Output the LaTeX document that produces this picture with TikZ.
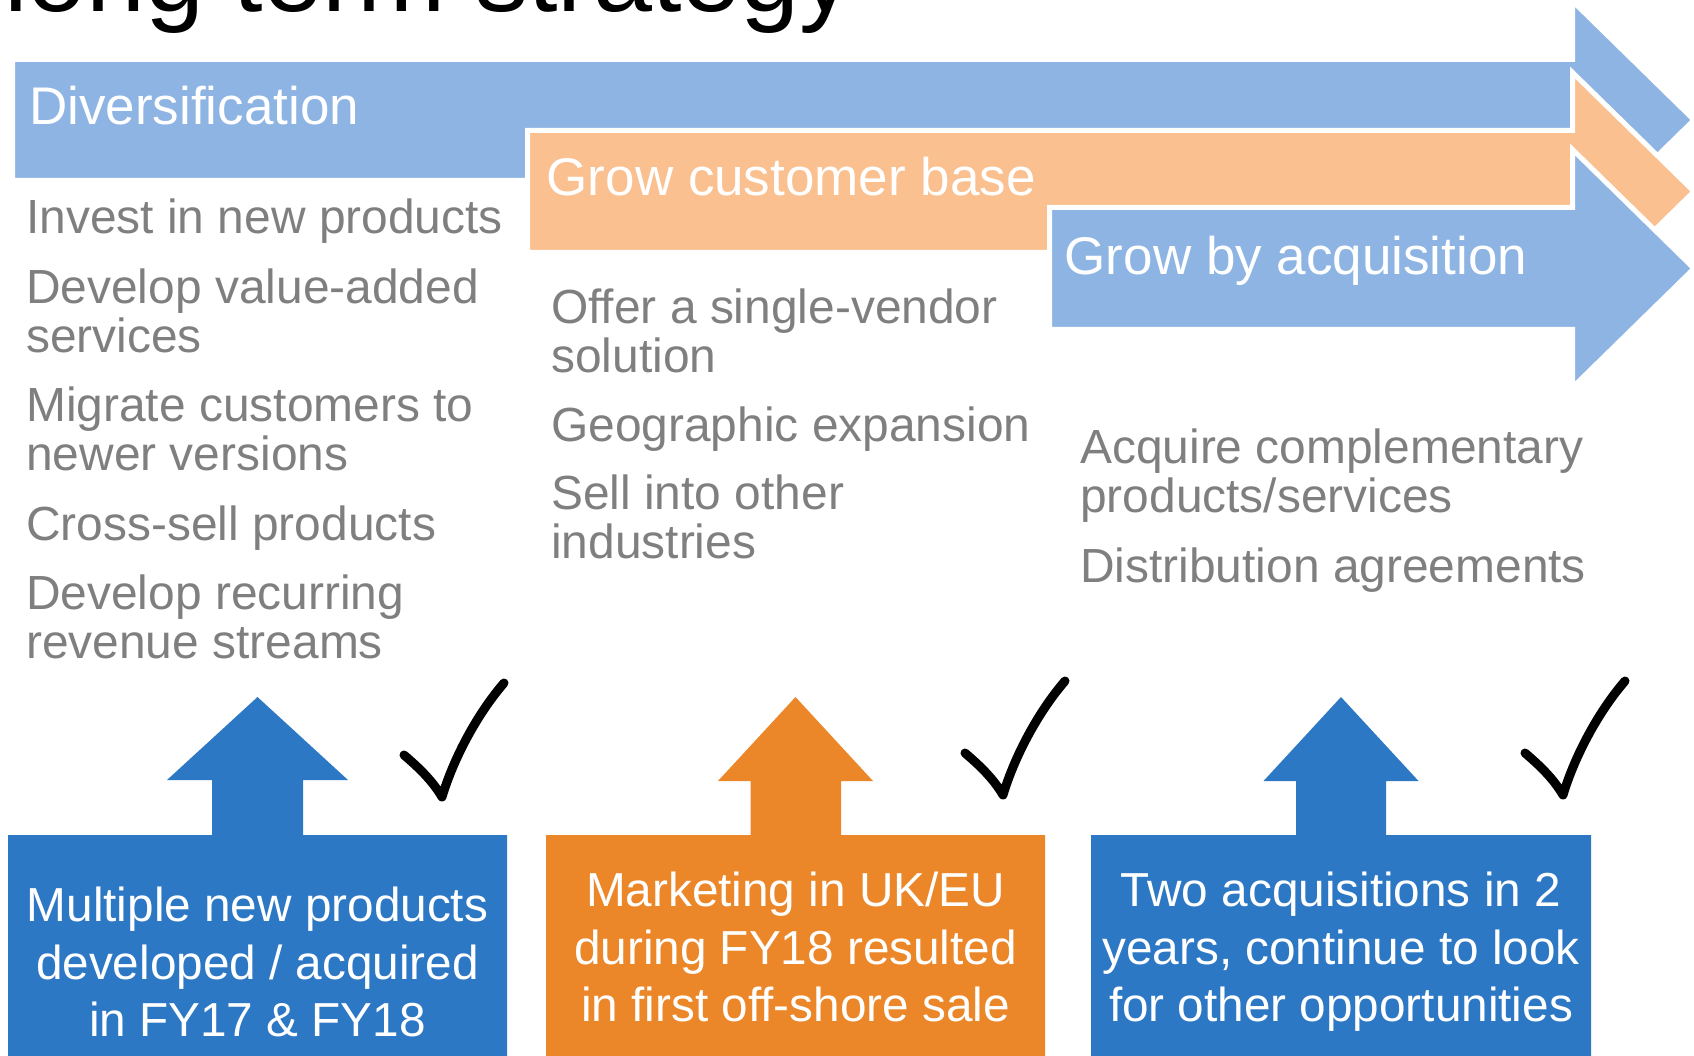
\documentclass[tikz,border=0pt]{standalone}
\usepackage{fontspec}
\setmainfont{Liberation Sans}
\usepackage{xcolor}

\definecolor{barblue}{HTML}{8EB4E3}
\definecolor{barorange}{HTML}{FAC090}
\definecolor{boxblue}{HTML}{2D78C4}
\definecolor{boxorange}{HTML}{EC8729}
\definecolor{listgray}{HTML}{7F7F7F}

\begin{document}
\begin{tikzpicture}[x=1pt, y=-1pt,
        bar/.style={draw=white, line width=5pt, line join=miter},
        barlabel/.style={anchor=base west, inner sep=0pt, text=white, font=\fontsize{53}{60}\selectfont},
        itemlist/.style={anchor=base west, inner sep=0pt, align=left, text=listgray, font=\fontsize{47.9}{49}\selectfont},
        result/.style={anchor=base, inner sep=0pt, align=center, text=white, font=\fontsize{47.7}{57.4}\selectfont},
        checkmark/.style={line width=9pt, line cap=round, line join=round}]
    \useasboundingbox (0,0) rectangle (1694,1056);

    \node [anchor=base west, inner sep=0pt, font=\fontsize{106}{110}\selectfont] (title) at (4,12) {long term strategy};

    % the three strategy arrows
    \path [bar, fill=barblue]   (12.5,59.5) -- (1572.5,59.5) -- (1572.5,1) -- (1694,120) -- (1572.5,239) -- (1572.5,180.5) -- (12.5,180.5) -- cycle;
    \path [bar, fill=barorange] (527.5,130.5) -- (1572.5,130.5) -- (1572.5,72.5) -- (1694,191.5) -- (1572.5,310.5) -- (1572.5,252.5) -- (527.5,252.5) -- cycle;
    \path [bar, fill=barblue]   (1049.5,207.5) -- (1572.5,207.5) -- (1572.5,149.5) -- (1694,268.5) -- (1572.5,387.5) -- (1572.5,329.5) -- (1049.5,329.5) -- cycle;

    \node [barlabel] (div) at (29,125) {Diversification};
    \node [barlabel] (cust) at (546.5,196) {Grow customer base};
    \node [barlabel] (acq) at (1064.5,274.5) {Grow by acquisition};

    % what each strategy means (base = last line)
    \node [itemlist] (divlist) at (26,658.5) {Invest in new products\\[20.5pt]Develop value-added\\services\\[20.5pt]Migrate customers to\\newer versions\\[20.5pt]Cross-sell products\\[20.5pt]Develop recurring\\revenue streams};
    \node [itemlist] (custlist) at (551,558) {Offer a single-vendor\\solution\\[20pt]Geographic expansion\\[19pt]Sell into other\\industries};
    \node [itemlist] (acqlist) at (1080,582) {Acquire complementary\\products/services\\[21pt]Distribution agreements};

    % results so far
    \fill [boxblue]   (8,1060) -- (8,835) -- (212,835) -- (212,780) -- (167,780) -- (257.5,697) -- (348,780) -- (303,780) -- (303,835) -- (507,835) -- (507,1060) -- cycle;
    \fill [boxorange] (546,1060) -- (546,835) -- (750.5,835) -- (750.5,781) -- (718,781) -- (795.5,697) -- (873,781) -- (841,781) -- (841,835) -- (1045,835) -- (1045,1060) -- cycle;
    \fill [boxblue]   (1091,1060) -- (1091,835) -- (1296,835) -- (1296,781) -- (1263.5,781) -- (1341,697) -- (1418.5,781) -- (1386,781) -- (1386,835) -- (1591,835) -- (1591,1060) -- cycle;

    \node [result] (divres) at (257.5,1036.5) {Multiple new products\\developed / acquired\\in FY17 \& FY18};
    \node [result] (custres) at (795.5,1021.7) {Marketing in UK/EU\\during FY18 resulted\\in first off-shore sale};
    \node [result] (acqres) at (1341,1021.7) {Two acquisitions in 2\\years, continue to look\\for other opportunities};

    \foreach \cx/\cy in {404/755, 965/753, 1525/753}
        \draw [checkmark, shift={(\cx,\cy)}] (0,0) .. controls (14,12) and (28,25) .. (38,42) .. controls (50,2) and (74,-42) .. (100,-72);
\end{tikzpicture}
\end{document}
